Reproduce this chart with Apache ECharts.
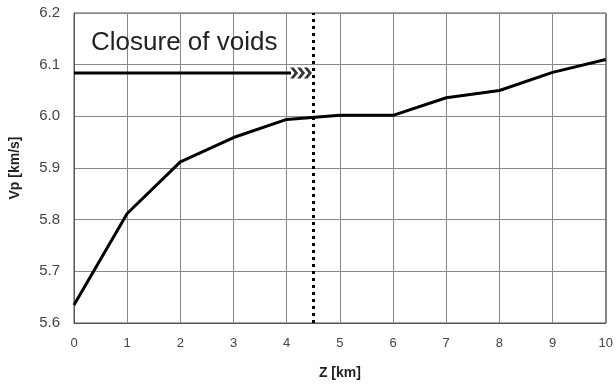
<!DOCTYPE html>
<html>
<head>
<meta charset="utf-8">
<script src="https://cdn.jsdelivr.net/npm/echarts@6/dist/echarts.min.js"></script>
<style>
  html, body { margin: 0; padding: 0; background: #fff; }
  #chart { width: 616px; height: 385px; }
</style>
</head>
<body>
<div id="chart"></div>
<script>
  // depth Z in km and P-wave velocity
  const depthKm = [0, 1, 2, 3, 4, 5, 6, 7, 8, 9, 10];
  const vp = [5.635, 5.812, 5.912, 5.959, 5.994, 6.002, 6.002, 6.036, 6.050, 6.085, 6.110];
  // closure of voids annotation
  const voidsDepth = 4.5;
  const arrowLine = [[0, 6.084], [4.08, 6.084]];
  const arrowHeads = [[4.14, 6.084], [4.27, 6.084], [4.40, 6.084]];

  const chevron = 'path://M0,0 L5,5 L0,10 L4,10 L9,5 L4,0 Z';

  const myChart = echarts.init(document.getElementById('chart'));
  let option = {
    animation: false,
    textStyle: { fontFamily: 'Liberation Sans, Arial, sans-serif' },
    title: {
      text: 'Closure of voids',
      left: 86,
      top: 25,
      textStyle: { fontSize: 26, fontWeight: 'normal', color: '#222' }
    },
    grid: {
      left: 71, right: 9, top: 13, bottom: 60,
      show: true, borderColor: '#555', borderWidth: 1
    },
    xAxis: {
      type: 'value',
      min: 0, max: 10, interval: 1,
      name: 'Z [km]',
      nameLocation: 'middle',
      nameGap: 43,
      nameTextStyle: { fontSize: 14, fontWeight: 'bold', color: '#222' },
      axisLine: { lineStyle: { color: '#555' } },
      axisTick: { show: false },
      axisLabel: { margin: 14, fontSize: 13, color: '#444' },
      splitLine: { lineStyle: { color: '#888' } }
    },
    yAxis: {
      type: 'value',
      min: 5.6, max: 6.2, interval: 0.1,
      name: 'Vp [km/s]',
      nameLocation: 'middle',
      nameGap: 52,
      nameTextStyle: { fontSize: 14, fontWeight: 'bold', color: '#222' },
      axisLine: { show: true, lineStyle: { color: '#555' } },
      axisTick: { show: false },
      axisLabel: {
        margin: 14, fontSize: 15, color: '#444',
        formatter: v => v.toFixed(1)
      },
      splitLine: { lineStyle: { color: '#888' } }
    },
    series: [
      {
        type: 'line',
        data: depthKm.map((z, i) => [z, vp[i]]),
        symbol: 'none',
        lineStyle: { color: '#000', width: 3 },
        markLine: {
          silent: true,
          symbol: 'none',
          label: { show: false },
          lineStyle: { color: '#000', width: 3, type: [3, 4] },
          data: [{ xAxis: voidsDepth }]
        }
      },
      {
        type: 'line',
        data: arrowLine,
        symbol: 'none',
        lineStyle: { color: '#000', width: 3 }
      },
      {
        type: 'scatter',
        data: arrowHeads,
        symbol: chevron,
        symbolSize: [8, 11],
        itemStyle: { color: '#000' }
      }
    ]
  };
  myChart.setOption(option);
</script>
</body>
</html>
